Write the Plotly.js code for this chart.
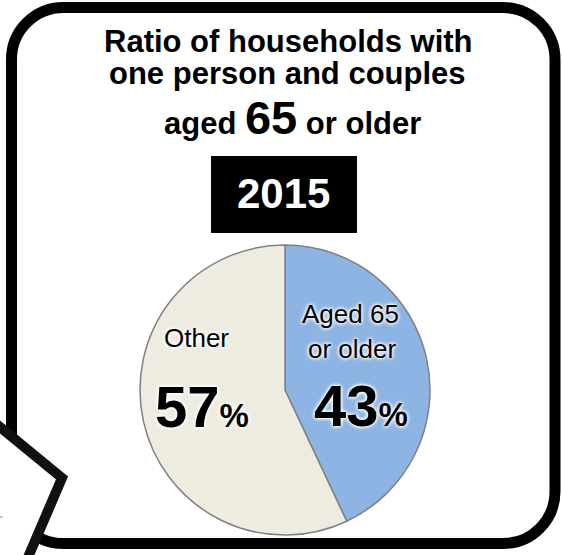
<!DOCTYPE html>
<html>
<head>
<meta charset="utf-8">
<script src="https://cdn.plot.ly/plotly-3.0.1.min.js"></script>
<style>html,body{margin:0;padding:0;background:#fff;}#chart{width:562px;height:555px;}</style>
</head>
<body>
<div id="chart"></div>
<script>
// ---- data ----
const categories = ["Aged 65 or older", "Other"];
const values = [43, 57];
const sliceColors = ["#8DB4E2", "#EEECE1"];
const labelLines = [["Aged 65", "or older"], ["Other"]];
const titleLines = ["Ratio of households with", "one person and couples"];
const titleAge = 65;
const year = "2015";

// ---- helpers ----
const W = 562, H = 555;
const px = x => x / W;
const py = y => 1 - y / H;
const P = (x, y) => px(x).toFixed(5) + "," + py(y).toFixed(5);

function roundRect(x0, y0, x1, y1, r) {
  const k = 0.5523 * r;
  return "M" + P(x0 + r, y0) +
    " L" + P(x1 - r, y0) +
    " C" + P(x1 - r + k, y0) + " " + P(x1, y0 + r - k) + " " + P(x1, y0 + r) +
    " L" + P(x1, y1 - r) +
    " C" + P(x1, y1 - r + k) + " " + P(x1 - r + k, y1) + " " + P(x1 - r, y1) +
    " L" + P(x0 + r, y1) +
    " C" + P(x0 + r - k, y1) + " " + P(x0, y1 - r + k) + " " + P(x0, y1 - r) +
    " L" + P(x0, y0 + r) +
    " C" + P(x0, y0 + r - k) + " " + P(x0 + r - k, y0) + " " + P(x0 + r, y0) + " Z";
}

const FONT = "Liberation Sans, Arial, Helvetica, sans-serif";
const glow = "0px 0px 4px #ffffff, 0px 0px 4px #ffffff, 0px 0px 3px #ffffff";

const trace = {
  type: "pie",
  labels: categories,
  values: values,
  marker: { colors: sliceColors, line: { color: "#808080", width: 1.5 } },
  sort: false,
  direction: "clockwise",
  rotation: 0,
  textinfo: "none",
  hoverinfo: "label+percent",
  showlegend: false,
  domain: { x: [px(140), px(430)], y: [py(535), py(245)] }
};

function ann(text, x, y, size, opts) {
  return Object.assign({
    text: text, xref: "paper", yref: "paper", x: px(x), y: py(y),
    xanchor: "center", yanchor: "middle", showarrow: false,
    font: { family: FONT, size: size, color: "#000" }
  }, opts || {});
}

const annotations = [
  ann(titleLines[0], 288.5, 41, 31, { font: { family: FONT, size: 31, color: "#000", weight: 700 } }),
  ann(titleLines[1], 287.5, 73, 31, { font: { family: FONT, size: 31, color: "#000", weight: 700 } }),
  ann("aged <span style='font-size:47px'>" + titleAge + "</span> or older", 292, 117, 31,
      { font: { family: FONT, size: 31, color: "#000", weight: 700 } }),
  ann(year, 283, 193, 42, { font: { family: FONT, size: 42, color: "#fff", weight: 700 } }),
  // pie labels
  ann(labelLines[0][0], 350, 314, 26, { font: { family: FONT, size: 26, color: "#000", shadow: glow } }),
  ann(labelLines[0][1], 351.5, 349, 26, { font: { family: FONT, size: 26, color: "#000", shadow: glow } }),
  ann(values[0] + "<span style='font-size:33px'>%</span>", 361, 405, 58,
      { font: { family: FONT, size: 58, color: "#000", weight: 700, shadow: glow } }),
  ann(labelLines[1][0], 196.5, 337.5, 26, { font: { family: FONT, size: 26, color: "#000", shadow: glow } }),
  ann(values[1] + "<span style='font-size:33px'>%</span>", 202, 406, 58,
      { font: { family: FONT, size: 58, color: "#000", weight: 700, shadow: glow } })
];

const shapes = [
  // outer rounded frame
  { type: "path", xref: "paper", yref: "paper", path: roundRect(11.5, 7.5, 555, 543.5, 52),
    line: { color: "#000", width: 11 }, fillcolor: "rgba(0,0,0,0)", layer: "above" },
  // year box
  { type: "rect", xref: "paper", yref: "paper", x0: px(211), x1: px(357), y0: py(233), y1: py(156),
    fillcolor: "#000", line: { width: 0 }, layer: "above" },
  // overlapping panel at bottom-left
  { type: "path", xref: "paper", yref: "paper",
    path: "M" + P(-6, 422) + " L" + P(62, 478) + " L" + P(26, 562) + " L" + P(-6, 562) + " Z",
    fillcolor: "#fff", line: { width: 0 }, layer: "above" },
  { type: "path", xref: "paper", yref: "paper",
    path: "M" + P(-6, 422) + " L" + P(62, 478) + " L" + P(26, 562),
    fillcolor: "rgba(0,0,0,0)", line: { color: "#111", width: 10 }, layer: "above" },
  { type: "line", xref: "paper", yref: "paper", x0: px(0), x1: px(3), y0: py(517), y1: py(517),
    line: { color: "#999", width: 1 }, layer: "above" }
];

const layout = {
  width: W, height: H,
  margin: { l: 0, r: 0, t: 0, b: 0, pad: 0 },
  paper_bgcolor: "#fff", plot_bgcolor: "#fff",
  showlegend: false,
  annotations: annotations,
  shapes: shapes
};

Plotly.newPlot("chart", [trace], layout, { displayModeBar: false, staticPlot: true });
</script>
</body>
</html>
